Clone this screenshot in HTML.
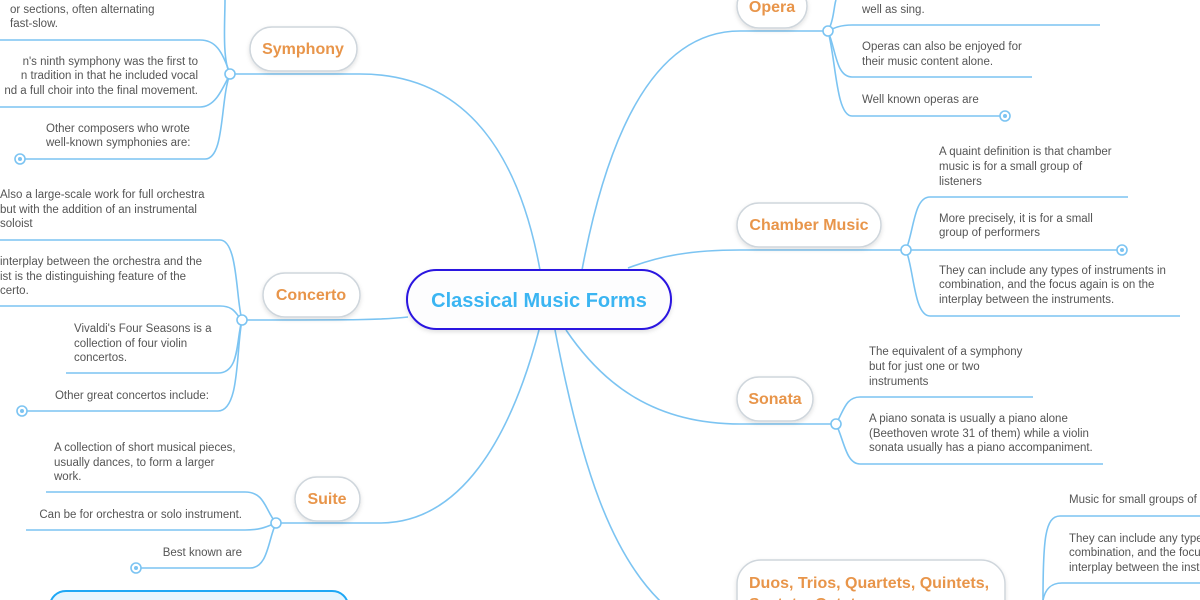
<!DOCTYPE html>
<html><head><meta charset="utf-8"><style>
html,body{margin:0;padding:0;background:#fff;}
svg{display:block;font-family:"Liberation Sans",sans-serif;}
.t{font-size:11.5px;fill:#555;}
.n{font-size:16px;font-weight:bold;fill:#e8954a;}
.l{fill:none;stroke:#7cc4f2;stroke-width:1.6;}
.nb{fill:#fff;stroke:#cfd6dc;stroke-width:1.5;}
</style></head><body>
<svg width="1200" height="600" viewBox="0 0 1200 600">
<defs><filter id="sh" x="-10%" y="-20%" width="120%" height="160%"><feDropShadow dx="0" dy="2" stdDeviation="2" flood-color="#000" flood-opacity="0.12"/></filter></defs>
<path class="l" d="M540 270 C520 160,470 74,360 74 L230 74"/>
<path class="l" d="M408 317 C380 320,360 320,242 320"/>
<path class="l" d="M539 330 C510 440,460 523,380 523 L276 523"/>
<path class="l" d="M555 330 C580 460,610 560,670 610"/>
<path class="l" d="M566 330 C600 380,650 424,740 424 L836 424"/>
<path class="l" d="M628 268 C660 256,690 250,740 250 L906 250"/>
<path class="l" d="M582 270 C610 120,660 31,740 31 L828 31"/>
<path class="l" d="M230 74 C222 60,225 20,225 0"/>
<path class="l" d="M230 74 C222 50,215 40,200 40 L0 40"/>
<path class="l" d="M230 74 C222 90,215 107,200 107 L0 107"/>
<path class="l" d="M230 74 C220 100,225 159,205 159 L20 159"/>
<path class="l" d="M242 320 C236 300,238 240,220 240 L0 240"/>
<path class="l" d="M242 320 C236 315,235 306,220 306 L0 306"/>
<path class="l" d="M242 320 C236 340,240 373,218 373 L66 373"/>
<path class="l" d="M242 320 C236 350,240 411,218 411 L22 411"/>
<path class="l" d="M276 523 C265 510,265 492,245 492 L46 492"/>
<path class="l" d="M276 523 C268 526,262 530,245 530 L26 530"/>
<path class="l" d="M276 523 C268 540,268 568,250 568 L136 568"/>
<path class="l" d="M828 31 C834 20,834 5,836 0"/>
<path class="l" d="M828 31 C834 28,840 25,852 25 L1100 25"/>
<path class="l" d="M828 31 C836 50,836 77,852 77 L1032 77"/>
<path class="l" d="M828 31 C836 60,836 116,852 116 L1005 116"/>
<path class="l" d="M906 250 C914 230,914 197,930 197 L1128 197"/>
<path class="l" d="M906 250 L1122 250"/>
<path class="l" d="M906 250 C914 270,914 316,930 316 L1180 316"/>
<path class="l" d="M836 424 C844 410,846 397,860 397 L1033 397"/>
<path class="l" d="M836 424 C844 440,846 464,860 464 L1103 464"/>
<path class="l" d="M1043 600 C1043 540,1045 516,1060 516 L1200 516"/>
<path class="l" d="M1043 600 C1045 590,1050 583,1062 583 L1200 583"/>
<g fill="#fff" stroke="#7cc4f2" stroke-width="1.6">
<circle cx="230" cy="74" r="5"/><circle cx="242" cy="320" r="5"/><circle cx="276" cy="523" r="5"/>
<circle cx="828" cy="31" r="5"/><circle cx="906" cy="250" r="5"/><circle cx="836" cy="424" r="5"/>
<circle cx="20" cy="159" r="5"/><circle cx="22" cy="411" r="5"/><circle cx="136" cy="568" r="5"/>
<circle cx="1005" cy="116" r="5"/><circle cx="1122" cy="250" r="5"/>
</g>
<g fill="#7cc4f2"><circle cx="20" cy="159" r="2"/><circle cx="22" cy="411" r="2"/><circle cx="136" cy="568" r="2"/><circle cx="1005" cy="116" r="2"/><circle cx="1122" cy="250" r="2"/></g>
<rect x="407" y="270" width="264" height="59" rx="29.5" fill="#fdfdfe" stroke="#2a12e0" stroke-width="2" filter="url(#sh)"/>
<text x="539" y="307" text-anchor="middle" font-size="20" font-weight="bold" fill="#3bb5f2">Classical Music Forms</text>
<g filter="url(#sh)">
<rect class="nb" x="250" y="27" width="107" height="44" rx="22"/>
<rect class="nb" x="263" y="273" width="97" height="44" rx="22"/>
<rect class="nb" x="295" y="477" width="65" height="44" rx="22"/>
<rect class="nb" x="737" y="-16" width="70" height="44" rx="22"/>
<rect class="nb" x="737" y="203" width="144" height="44" rx="22"/>
<rect class="nb" x="737" y="377" width="76" height="44" rx="22"/>
<rect class="nb" x="737" y="560" width="268" height="64" rx="24"/>
</g>
<rect x="50" y="591" width="298" height="30" rx="16" fill="#e6f5fe" stroke="#1ea7f5" stroke-width="2"/>
<text class="n" x="303" y="54" text-anchor="middle">Symphony</text>
<text class="n" x="311" y="300" text-anchor="middle">Concerto</text>
<text class="n" x="327" y="504" text-anchor="middle">Suite</text>
<text class="n" x="772" y="12" text-anchor="middle">Opera</text>
<text class="n" x="809" y="230" text-anchor="middle">Chamber Music</text>
<text class="n" x="775" y="404" text-anchor="middle">Sonata</text>
<text class="n" x="749" y="588">Duos, Trios, Quartets, Quintets,</text>
<text class="n" x="749" y="609">Sextets, Octets</text>
<g class="t">
<text x="10" y="13">or sections, often alternating</text>
<text x="10" y="27">fast-slow.</text>
<text x="198" y="65" text-anchor="end">n's ninth symphony was the first to</text>
<text x="198" y="79" text-anchor="end">n tradition in that he included vocal</text>
<text x="198" y="94" text-anchor="end">nd a full choir into the final movement.</text>
<text x="46" y="132">Other composers who wrote</text>
<text x="46" y="146">well-known symphonies are:</text>
<text x="0" y="198">Also a large-scale work for full orchestra</text>
<text x="0" y="213">but with the addition of an instrumental</text>
<text x="0" y="227">soloist</text>
<text x="0" y="265">interplay between the orchestra and the</text>
<text x="0" y="280">ist is the distinguishing feature of the</text>
<text x="0" y="294">certo.</text>
<text x="74" y="332">Vivaldi's Four Seasons is a</text>
<text x="74" y="347">collection of four violin</text>
<text x="74" y="361">concertos.</text>
<text x="209" y="399" text-anchor="end">Other great concertos include:</text>
<text x="54" y="451">A collection of short musical pieces,</text>
<text x="54" y="466">usually dances, to form a larger</text>
<text x="54" y="480">work.</text>
<text x="242" y="518" text-anchor="end">Can be for orchestra or solo instrument.</text>
<text x="242" y="556" text-anchor="end">Best known are</text>
<text x="862" y="13">well as sing.</text>
<text x="862" y="50">Operas can also be enjoyed for</text>
<text x="862" y="65">their music content alone.</text>
<text x="862" y="103">Well known operas are</text>
<text x="939" y="155">A quaint definition is that chamber</text>
<text x="939" y="170">music is for a small group of</text>
<text x="939" y="185">listeners</text>
<text x="939" y="222">More precisely, it is for a small</text>
<text x="939" y="236">group of performers</text>
<text x="939" y="274">They can include any types of instruments in</text>
<text x="939" y="288">combination, and the focus again is on the</text>
<text x="939" y="303">interplay between the instruments.</text>
<text x="869" y="355">The equivalent of a symphony</text>
<text x="869" y="370">but for just one or two</text>
<text x="869" y="385">instruments</text>
<text x="869" y="422">A piano sonata is usually a piano alone</text>
<text x="869" y="437">(Beethoven wrote 31 of them) while a violin</text>
<text x="869" y="451">sonata usually has a piano accompaniment.</text>
<text x="1069" y="503">Music for small groups of</text>
<text x="1069" y="542">They can include any types of instruments in</text>
<text x="1069" y="556">combination, and the focus again is on the</text>
<text x="1069" y="571">interplay between the instruments.</text>
</g>
</svg>
</body></html>
